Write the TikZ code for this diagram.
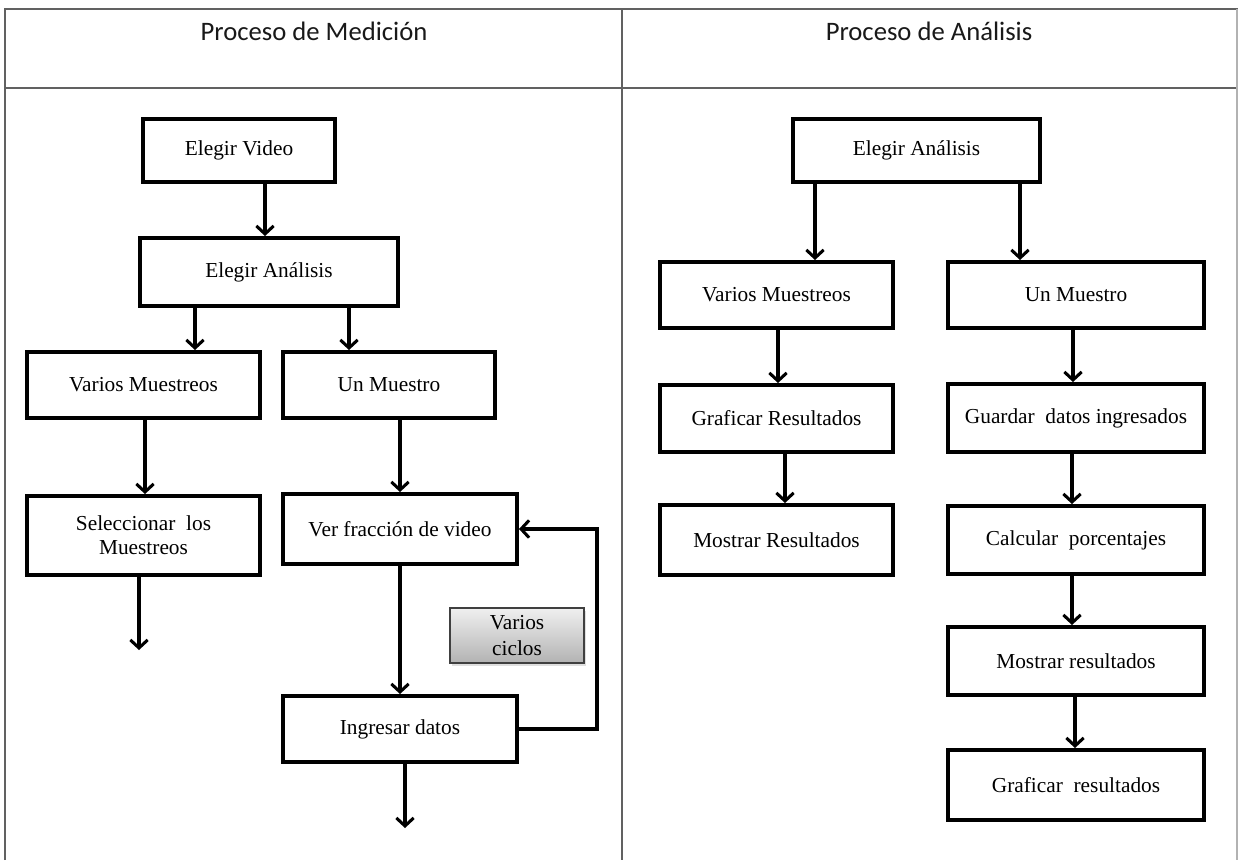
\documentclass[tikz,border=0pt]{standalone}
\usepackage{fontspec}
\setmainfont{Liberation Serif}
\newfontfamily\headfont{Carlito}
\usetikzlibrary{arrows.meta,shadows}

\begin{document}
\begin{tikzpicture}[x=0.75pt,y=-0.75pt,
  frame/.style={draw=black!62,line width=2pt},
  box/.style={draw=black,line width=3pt,fill=white,inner sep=0pt,
    align=center,font=\fontsize{16}{18}\selectfont},
  sz/.style 2 args={minimum width=#1*0.75pt,minimum height=#2*0.75pt},
  note/.style={draw=black!75,line width=1.2pt,inner sep=0pt,align=center,
    top color=black!6,bottom color=black!30,
    drop shadow={shadow xshift=1.5pt,shadow yshift=-2pt,opacity=0.25},
    font=\fontsize{16}{19}\selectfont},
  arr/.style={draw=black,line width=2.3pt,
    -{Straight Barb[length=6pt,width=13pt,line width=2.3pt]}},
  head/.style={font=\headfont\fontsize{20}{24}\selectfont,text=black!90}]

\useasboundingbox (0,0) rectangle (1238,860);

% table frame
\draw[frame] (5,860) -- (5,9) -- (1238,9);
\draw[frame] (5,88) -- (1238,88);
\draw[frame] (622,9) -- (622,860);
\draw[draw=black!30,line width=0.8pt] (1237,9) -- (1237,860);

% column headings
\node[head] (h1) at (314,31) {Proceso de Medición};
\node[head] (h2) at (929,31) {Proceso de Análisis};

% measurement process
\node[box,sz={192}{63}] (vid) at (239,150.5) {Elegir Video};
\node[box,sz={258}{68}] (ea1) at (269,272) {Elegir Análisis};
\node[box,sz={233}{66}] (vm1) at (143.5,385) {Varios Muestreos};
\node[box,sz={212}{66}] (um1) at (389,385) {Un Muestro};
\node[box,sz={233}{79}] (sel) at (143.5,535.5) {Seleccionar\ \ los\\Muestreos};
\node[box,sz={234}{70}] (ver) at (400,529) {Ver fracción de video};
\node[box,sz={234}{66}] (ing) at (400,729) {Ingresar datos};
\node[note,sz={134}{55}] (cic) at (517,635.5) {Varios\\ciclos};

\coordinate (selend) at (139,650);
\coordinate (ingend) at (405,828);
\coordinate (loopx) at (597,630);

\draw[arr] (265,0 |- vid.south) -- (265,0 |- ea1.north);
\draw[arr] (195,0 |- ea1.south) -- (195,0 |- vm1.north);
\draw[arr] (349,0 |- ea1.south) -- (349,0 |- um1.north);
\draw[arr] (145,0 |- vm1.south) -- (145,0 |- sel.north);
\draw[arr] (400,0 |- um1.south) -- (400,0 |- ver.north);
\draw[arr] (selend |- sel.south) -- (selend);
\draw[arr] (400,0 |- ver.south) -- (400,0 |- ing.north);
\draw[arr] (ingend |- ing.south) -- (ingend);
\draw[arr] (ing.east) -| (loopx) |- (ver.east);

% analysis process
\node[box,sz={247}{63}] (ea2) at (916.5,150.5) {Elegir Análisis};
\node[box,sz={233}{66}] (vm2) at (776.5,295) {Varios Muestreos};
\node[box,sz={233}{67}] (gr2) at (776.5,418.5) {Graficar Resultados};
\node[box,sz={233}{70}] (mr2) at (776.5,540) {Mostrar Resultados};
\node[box,sz={256}{66}] (um2) at (1076,295) {Un Muestro};
\node[box,sz={256}{68}] (gd2) at (1076,418) {Guardar\ \ datos ingresados};
\node[box,sz={256}{68}] (cp2) at (1076,540) {Calcular\ \ porcentajes};
\node[box,sz={256}{68}] (ms2) at (1076,661) {Mostrar resultados};
\node[box,sz={256}{70}] (gf2) at (1076,785) {Graficar\ \ resultados};

\draw[arr] (815,0 |- ea2.south) -- (815,0 |- vm2.north);
\draw[arr] (1020,0 |- ea2.south) -- (1020,0 |- um2.north);
\draw[arr] (778,0 |- vm2.south) -- (778,0 |- gr2.north);
\draw[arr] (785,0 |- gr2.south) -- (785,0 |- mr2.north);
\draw[arr] (1073,0 |- um2.south) -- (1073,0 |- gd2.north);
\draw[arr] (1072,0 |- gd2.south) -- (1072,0 |- cp2.north);
\draw[arr] (1072,0 |- cp2.south) -- (1072,0 |- ms2.north);
\draw[arr] (1075,0 |- ms2.south) -- (1075,0 |- gf2.north);

\end{tikzpicture}
\end{document}
